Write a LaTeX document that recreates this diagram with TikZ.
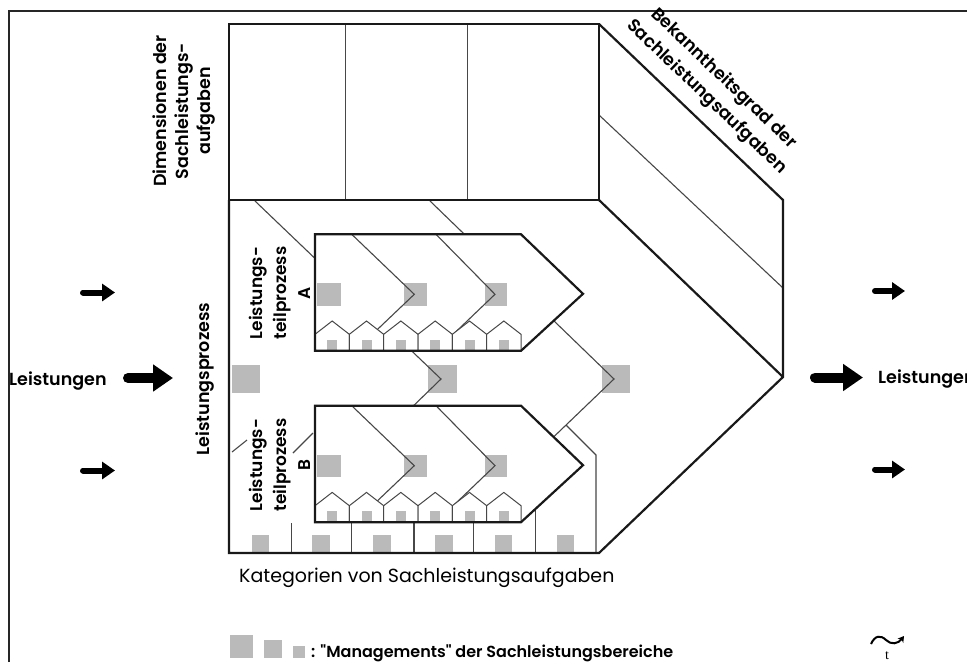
\documentclass[tikz,border=0pt]{standalone}
\usepackage{fontspec}
\setmainfont{Poppins}[BoldFont={Poppins SemiBold}]
\newfontfamily\seriffont{Liberation Serif}
\usetikzlibrary{arrows.meta}
\tikzset{
  thickline/.style={line width=2.2pt, draw=black!90, line join=miter},
  thinline/.style={line width=1.1pt, draw=black!72},
  mgmt/.style={fill=black!27, draw=none},
  txt/.style={font=\fontsize{17.5}{25}\selectfont\bfseries, inner sep=0pt, align=center},
  flow/.style={line width=6pt, line cap=round, -{Triangle[length=13pt 0,width=17pt 0]}},
  mainflow/.style={line width=10pt, line cap=round, -{Triangle[length=20pt 0,width=26pt 0]}},
  % one sub-process: chevron panel with steps, managements and a row of houses
  pics/teilprozess/.style={code={
    \path[fill=white] (0,0) -- (206,0) -- (268,59.5) -- (206,116.5) -- (0,116.5) -- cycle;
    \fill[mgmt] (1.7,49) rectangle (25.7,71.4);
    \fill[mgmt] (89,49) rectangle (112,71.4);
    \fill[mgmt] (170,49) rectangle (192.3,71.4);
    \draw[thinline] (36.7,0) -- (99.3,60) -- (40,116.5);
    \draw[thinline] (121,0) -- (180,60) -- (121,116.5);
    \foreach \i in {0,...,5} {
      \pgfmathsetmacro\xa{\i*206/6}
      \draw[thinline, line width=1pt, fill=white] (\xa,116.5) -- (\xa,100) -- ++(17.17,-13.3) -- ++(17.17,13.3) -- ++(0,16.5);
      \fill[mgmt] (\xa+12.2,105.7) rectangle ++(10,10.8);
    }
    \draw[thickline] (0,0) -- (206,0) -- (268,59.5) -- (206,116.5) -- (0,116.5) -- cycle;
  }},
}
\begin{document}
\begin{tikzpicture}[x=1pt,y=-1pt]
\useasboundingbox (0,0) rectangle (967,662);
\clip (0,0) rectangle (967,662);
\fill[white] (0,0) rectangle (967,662);

% outer frame
\draw[line width=1.3pt, black!85] (9,662) -- (9,11) -- (967,11);

% managements in the process row and the category strip
\fill[mgmt] (231.7,365) rectangle (260,393);
\fill[mgmt] (428,365) rectangle (456.5,393);
\fill[mgmt] (602,365) rectangle (630,393);
\foreach \cx in {260.3,321,382,443.8,503.3,565.5}
  \fill[mgmt] (\cx-8.7,535) rectangle (\cx+8.7,552);

% process steps on the front face
\draw[thinline] (255,201) -- (441,379) -- (405,414);
\draw[thinline] (430,201) -- (614,379) -- (540,450);
\draw[thinline] (566,425) -- (596,455) -- (596,553);
\draw[thinline] (232,452) -- (247,440);
\draw[thinline] (293,453) -- (313,433);
\foreach \x/\y in {291.7/523,351.7/522,414/522,473.3/522,535.7/509}
  \draw[thinline] (\x,\y) -- (\x,553);

% dimensions box dividers and side face line
\draw[thinline] (345.3,24) -- (345.3,200);
\draw[thinline] (467.7,24) -- (467.7,200);
\draw[thinline] (599,115) -- (783,288);

% sub-processes A and B
\pic (tpa) at (315,234.3) {teilprozess};
\pic (tpb) at (315,405.7) {teilprozess};

% body outlines
\draw[thickline] (229,24) rectangle (599,200);
\draw[thickline] (229,200) -- (229,553) -- (599,553) -- (783,377) -- (783,200) -- (599,24);
\draw[thickline] (599,200) -- (783,377);

% labels
\node[txt, rotate=90, font=\fontsize{17.5}{22}\selectfont\bfseries] (dim) at (184,111) {Dimensionen der\\Sachleistungs-\\aufgaben};
\node[txt, rotate=90] (prozess) at (205,379) {Leistungsprozess};
\node[txt, rotate=90, font=\fontsize{17}{24}\selectfont\bfseries] (lta) at (280,293) {Leistungs-\\teilprozess\\A};
\node[txt, rotate=90, font=\fontsize{17}{24}\selectfont\bfseries] (ltb) at (280,465) {Leistungs-\\teilprozess\\B};
\node[txt, rotate=-43.7] (bek) at (715,88) {Bekanntheitsgrad der\\Sachleistungsaufgaben};
\node[txt, anchor=base west, font=\fontsize{19}{22}\selectfont] (kat) at (239,582) {Kategorien von Sachleistungsaufgaben};
\node[txt, anchor=base west] (inL) at (9,385) {Leistungen};
\node[txt, anchor=base west] (outL) at (878,383) {Leistungen};

% flow arrows
\coordinate (a1s) at (83,292.5);  \coordinate (a1e) at (115,292.5);
\coordinate (a2s) at (128,378);   \coordinate (a2e) at (173,378);
\coordinate (a3s) at (83,470.5);  \coordinate (a3e) at (115,470.5);
\coordinate (b1s) at (875,291);   \coordinate (b1e) at (905,291);
\coordinate (b2s) at (815,377.5); \coordinate (b2e) at (863,377.5);
\coordinate (b3s) at (875,469.5); \coordinate (b3e) at (905,469.5);
\draw[flow] (a1s) -- (a1e);
\draw[mainflow] (a2s) -- (a2e);
\draw[flow] (a3s) -- (a3e);
\draw[flow] (b1s) -- (b1e);
\draw[mainflow] (b2s) -- (b2e);
\draw[flow] (b3s) -- (b3e);

% legend
\fill[mgmt] (230,635) rectangle (253,658);
\fill[mgmt] (264,640) rectangle (282,658);
\fill[mgmt] (293,646) rectangle (305,658);
\node[txt, anchor=base west, font=\fontsize{16}{20}\selectfont\bfseries] (leg) at (311,657) {: \textquotedbl Managements\textquotedbl{} der Sachleistungsbereiche};

% time symbol
\coordinate (ts) at (871,644);
\coordinate (te) at (904,636);
\draw[line width=2pt, -{Stealth[length=6pt 0,width=7pt 0]}] (ts) .. controls (875,635) and (881,635) .. (886,640) .. controls (891,645) and (898,644) .. (te);
\node[font=\seriffont\fontsize{14}{14}\selectfont, anchor=base, inner sep=0pt] (tt) at (887,659) {t};
\end{tikzpicture}
\end{document}
